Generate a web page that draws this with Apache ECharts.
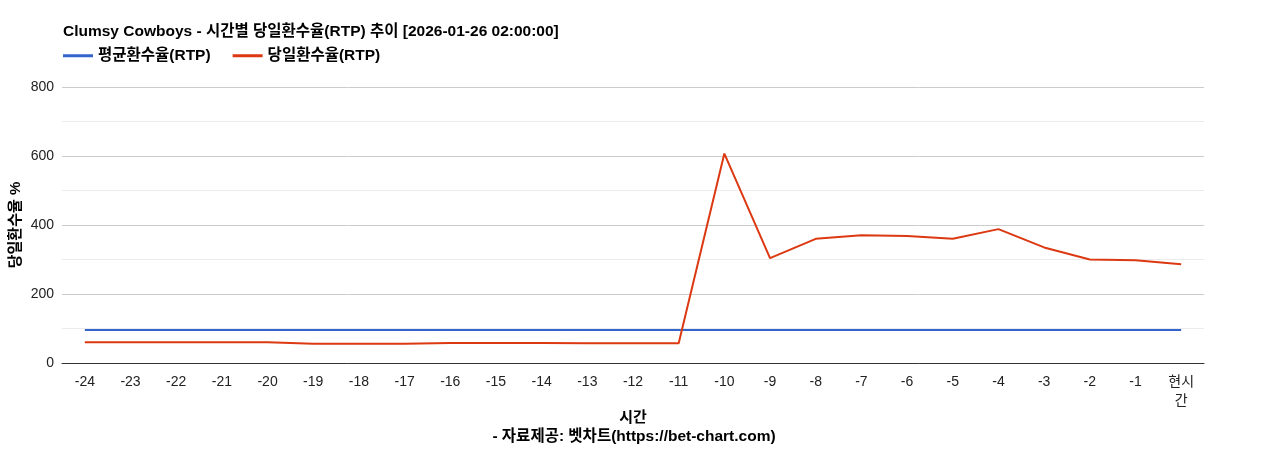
<!DOCTYPE html>
<html>
<head>
<meta charset="utf-8">
<script src="https://cdn.jsdelivr.net/npm/echarts@6/dist/echarts.min.js"></script>
<style>
html,body{margin:0;padding:0;background:#fff;}
#chart{width:1268px;height:450px;}
</style>
</head>
<body>
<div id="chart"></div>
<script>
const categories = ['-24','-23','-22','-21','-20','-19','-18','-17','-16','-15','-14','-13','-12','-11','-10','-9','-8','-7','-6','-5','-4','-3','-2','-1','현시간'];
const avgRtp = [96,96,96,96,96,96,96,96,96,96,96,96,96,96,96,96,96,96,96,96,96,96,96,96,96];
const dayRtp = [60,60,60,60,60,56,56,56,58,58,58,57,57,57,607,304,360,370,368,360,388,335,300,298,286];
const yTicks = [0,200,400,600,800];

const FONT = '"Liberation Sans","Noto Sans CJK KR",sans-serif';
const chart = echarts.init(document.getElementById('chart'));
chart.setOption({
  animation: false,
  textStyle: {fontFamily: FONT},
  title: {
    text: 'Clumsy Cowboys - 시간별 당일환수율(RTP) 추이 [2026-01-26 02:00:00]',
    left: 58, top: 19,
    textStyle: {fontSize: 15.5, fontWeight: 'bold', color: '#000', fontFamily: FONT}
  },
  legend: {
    left: 58, top: 43,
    icon: 'path://M0,0 L30,0 L30,3 L0,3 Z',
    itemWidth: 30, itemHeight: 3, itemGap: 22, itemStyle: {borderWidth: 0},
    textStyle: {fontSize: 15.5, fontWeight: 'bold', color: '#000', fontFamily: FONT},
    data: ['평균환수율(RTP)', '당일환수율(RTP)']
  },
  grid: {left: 62, right: 64, top: 87, bottom: 87, containLabel: false, outerBoundsMode: 'none'},
  xAxis: {
    type: 'category',
    data: categories,
    boundaryGap: true,
    name: '시간',
    nameLocation: 'middle',
    nameGap: 47,
    nameMoveOverlap: false,
    nameTextStyle: {fontSize: 15, fontWeight: 'bold', color: '#000', fontFamily: FONT},
    axisLine: {lineStyle: {color: '#333', width: 1}},
    axisTick: {show: false},
    axisLabel: {
      interval: 0, fontSize: 14, color: '#222', margin: 10, lineHeight: 19,
      formatter: v => v === '현시간' ? '현시\n간' : v
    }
  },
  yAxis: {
    type: 'value',
    min: 0, max: 800, interval: 200,
    name: '당일환수율 %',
    nameLocation: 'middle',
    nameGap: 39,
    nameMoveOverlap: false,
    nameTextStyle: {fontSize: 15, fontWeight: 'bold', color: '#000', fontFamily: FONT},
    axisLine: {show: false},
    axisTick: {show: false},
    axisLabel: {fontSize: 14, color: '#222', margin: 8,
      formatter: v => yTicks.indexOf(v) >= 0 ? String(v) : ''},
    splitLine: {lineStyle: {color: '#cccccc', width: 1}},
    minorTick: {show: false, splitNumber: 2},
    minorSplitLine: {show: true, lineStyle: {color: '#ebebeb', width: 1}}
  },
  series: [
    {
      name: '평균환수율(RTP)', type: 'line', data: avgRtp,
      symbol: 'none', color: '#3366cc',
      lineStyle: {width: 2, color: '#3366cc'}
    },
    {
      name: '당일환수율(RTP)', type: 'line', data: dayRtp,
      symbol: 'none', color: '#dc3912',
      lineStyle: {width: 2, color: '#dc3912'}
    }
  ],
  graphic: [{
    type: 'text',
    left: 'center', top: 429,
    style: {text: '- 자료제공: 벳차트(https://bet-chart.com)', fill: '#000', font: 'bold 15.5px ' + FONT}
  }]
});
</script>
</body>
</html>
